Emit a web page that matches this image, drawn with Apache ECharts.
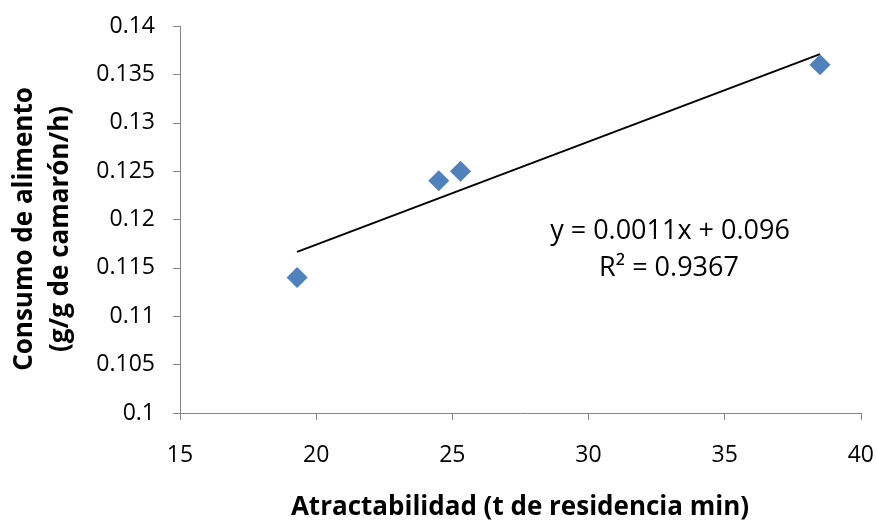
<!DOCTYPE html>
<html><head><meta charset="utf-8">
<script src="https://cdn.jsdelivr.net/npm/echarts@6/dist/echarts.min.js"></script>
<style>html,body{margin:0;padding:0;background:#fff}#c{width:877px;height:523px}</style>
</head><body><div id="c"></div>
<script>
const xValues = [19.3, 24.5, 25.3, 38.5];
const yValues = [0.114, 0.124, 0.125, 0.136];
const equationText = 'y = 0.0011x + 0.096';
const r2Text = 'R² = 0.9367';
const xTitle = 'Atractabilidad (t de residencia min)';
const yTitleLines = ['Consumo de alimento', '(g/g de camarón/h)'];

// least-squares trendline over data range
const n = xValues.length;
const mx = xValues.reduce((a,b)=>a+b,0)/n, my = yValues.reduce((a,b)=>a+b,0)/n;
let sxy=0,sxx=0;
for(let i=0;i<n;i++){sxy+=(xValues[i]-mx)*(yValues[i]-my);sxx+=(xValues[i]-mx)**2;}
const slope=sxy/sxx, icpt=my-slope*mx;
const xmin=Math.min(...xValues), xmax=Math.max(...xValues);
const trend=[[xmin,icpt+slope*xmin],[xmax,icpt+slope*xmax]];

const FONT='"Open Sans"';
const chart=echarts.init(document.getElementById('c'));
chart.setOption({
  animation:false,
  grid:{left:180,right:15,top:26,bottom:110},
  xAxis:{type:'value',min:15,max:40,interval:5,
    axisLine:{lineStyle:{color:'#868686',width:1}},
    axisTick:{show:true,length:7,lineStyle:{color:'#868686'}},
    splitLine:{show:false},
    axisLabel:{color:'#000',fontSize:23,fontFamily:FONT,margin:31}},
  yAxis:{type:'value',min:0.1,max:0.14,interval:0.005,
    axisLine:{show:true,lineStyle:{color:'#868686',width:1}},
    axisTick:{show:true,length:7,lineStyle:{color:'#868686'}},
    splitLine:{show:false},
    axisLabel:{color:'#000',fontSize:23,fontFamily:FONT,margin:25,formatter:v=>String(+v.toFixed(3))}},
  series:[
    {type:'line',data:trend,symbol:'none',lineStyle:{color:'#000',width:2},z:1},
    {type:'scatter',data:xValues.map((x,i)=>[x,yValues[i]]),symbol:'diamond',symbolSize:[21,21],
     itemStyle:{color:'#4F81BD',opacity:1},z:2}
  ],
  graphic:[
    {type:'text',x:670,y:231,style:{text:equationText,font:'27px '+FONT,fill:'#000',textAlign:'center',textVerticalAlign:'middle'}},
    {type:'text',x:669,y:268,style:{text:r2Text,font:'27px '+FONT,fill:'#000',textAlign:'center',textVerticalAlign:'middle'}},
    {type:'text',x:520,y:508,style:{text:xTitle,font:'bold 26px '+FONT,fill:'#000',textAlign:'center',textVerticalAlign:'middle'}},
    {type:'text',x:25,y:229,rotation:Math.PI/2,style:{text:yTitleLines[0],font:'bold 26px '+FONT,fill:'#000',textAlign:'center',textVerticalAlign:'middle'}},
    {type:'text',x:61,y:229,rotation:Math.PI/2,style:{text:yTitleLines[1],font:'bold 26px '+FONT,fill:'#000',textAlign:'center',textVerticalAlign:'middle'}}
  ]
});
</script></body></html>
